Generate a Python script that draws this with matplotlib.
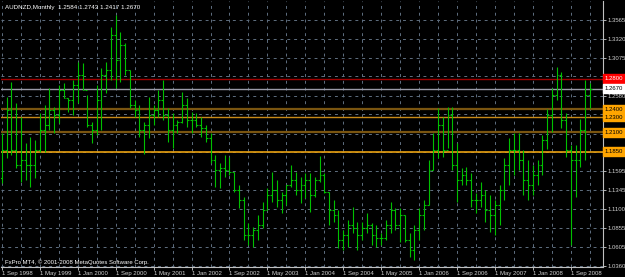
import matplotlib
matplotlib.use("Agg")
import matplotlib.pyplot as plt
import matplotlib.transforms as mtransforms
import numpy as np

plt.rcParams["font.family"] = ["Liberation Sans", "DejaVu Sans"]

titulo = "AUDNZD,Monthly  1.2584 1.2743 1.2417 1.2670"
pie = "FxPro MT4, \u00a9 2001-2008 MetaQuotes Software Corp."

# velas mensuales, la primera es Sep 1998
maximos = [1.2093, 1.2562, 1.2757, 1.2484, 1.2301, 1.1962, 1.2041, 1.2002, 1.2353, 1.2457,
           1.2679, 1.2431, 1.2718, 1.2744, 1.2549, 1.2783, 1.3018, 1.3005, 1.2588, 1.2236,
           1.2718, 1.2940, 1.3018, 1.3474, 1.3630, 1.3409, 1.3265, 1.2914, 1.2523, 1.2457,
           1.2236, 1.2562, 1.2457, 1.2653, 1.2783, 1.2418, 1.2353, 1.2262, 1.2627, 1.2549,
           1.2366, 1.2353, 1.2301, 1.2197, 1.2093, 1.1806, 1.1702, 1.1806, 1.1780, 1.1585,
           1.1415, 1.1259, 1.0920, 1.0868, 1.1024, 1.1194, 1.1376, 1.1585, 1.1480, 1.1324,
           1.1415, 1.1676, 1.1585, 1.1520, 1.1572, 1.1572, 1.1520, 1.1793, 1.1572, 1.1324,
           1.1220, 1.1090, 1.0829, 1.0959, 1.1129, 1.0933, 1.0933, 1.1050, 1.0920, 1.0894,
           1.0790, 1.0959, 1.1194, 1.1116, 1.1116, 1.1024, 1.0790, 1.0894, 1.1116, 1.1220,
           1.1741, 1.2093, 1.2418, 1.2301, 1.2431, 1.2431, 1.1962, 1.1637, 1.1650, 1.1572,
           1.1311, 1.1454, 1.1350, 1.1285, 1.1220, 1.1415, 1.1767, 1.2028, 1.2093, 1.2093,
           1.1871, 1.1741, 1.1676, 1.1741, 1.2067, 1.2405, 1.2679, 1.2953, 1.2887, 1.2353,
           1.1936, 1.1936, 1.2275, 1.2783, 1.2743]
minimos = [1.1441, 1.1767, 1.1806, 1.1637, 1.1454, 1.1480, 1.1389, 1.1506, 1.1845, 1.1845,
           1.2132, 1.2093, 1.2223, 1.2549, 1.2366, 1.2327, 1.2484, 1.2653, 1.2171, 1.1962,
           1.2067, 1.2132, 1.2614, 1.2783, 1.2679, 1.2757, 1.2848, 1.2418, 1.2301, 1.2041,
           1.1819, 1.2028, 1.2197, 1.2301, 1.2262, 1.1975, 1.1897, 1.2093, 1.2223, 1.2171,
           1.2093, 1.2171, 1.2041, 1.1975, 1.1702, 1.1389, 1.1376, 1.1520, 1.1546, 1.1324,
           1.1116, 1.0699, 1.0634, 1.0608, 1.0699, 1.0855, 1.1090, 1.1194, 1.1129, 1.1050,
           1.1155, 1.1389, 1.1285, 1.1181, 1.1246, 1.1064, 1.1259, 1.1454, 1.1311, 1.0894,
           1.0933, 1.0594, 1.0568, 1.0608, 1.0790, 1.0568, 1.0699, 1.0790, 1.0634, 1.0608,
           1.0634, 1.0699, 1.0790, 1.0829, 1.0673, 1.0673, 1.0477, 1.0438, 1.0699, 1.0829,
           1.1155, 1.1611, 1.1767, 1.1780, 1.1897, 1.1611, 1.1194, 1.1415, 1.1415, 1.1129,
           1.1050, 1.1129, 1.0933, 1.0803, 1.0764, 1.0894, 1.1220, 1.1415, 1.1546, 1.1611,
           1.1285, 1.1220, 1.1285, 1.1415, 1.1546, 1.1884, 1.2106, 1.2523, 1.2158, 1.1780,
           1.0634, 1.1259, 1.1650, 1.1741, 1.2417]
cierres = [1.1871, 1.2392, 1.1871, 1.1676, 1.1741, 1.1676, 1.1676, 1.1871, 1.2132, 1.2197,
           1.2392, 1.2327, 1.2653, 1.2549, 1.2523, 1.2718, 1.2848, 1.2653, 1.2197, 1.2132,
           1.2523, 1.2848, 1.2914, 1.3370, 1.3044, 1.3239, 1.2914, 1.2457, 1.2392, 1.2132,
           1.2197, 1.2327, 1.2392, 1.2523, 1.2327, 1.2132, 1.2197, 1.2236, 1.2457, 1.2262,
           1.2262, 1.2197, 1.2158, 1.2028, 1.1741, 1.1611, 1.1637, 1.1611, 1.1585, 1.1350,
           1.1220, 1.0764, 1.0764, 1.0829, 1.0894, 1.1090, 1.1285, 1.1350, 1.1220, 1.1285,
           1.1415, 1.1480, 1.1350, 1.1415, 1.1480, 1.1285, 1.1480, 1.1546, 1.1324, 1.1090,
           1.1024, 1.0699, 1.0764, 1.0894, 1.0855, 1.0764, 1.0855, 1.0894, 1.0764, 1.0725,
           1.0725, 1.0894, 1.1090, 1.0894, 1.1024, 1.0699, 1.0568, 1.0829, 1.1024, 1.1155,
           1.1611, 1.1871, 1.2197, 1.1871, 1.2327, 1.1676, 1.1480, 1.1546, 1.1480, 1.1220,
           1.1220, 1.1285, 1.1090, 1.1024, 1.1155, 1.1350, 1.1676, 1.1871, 1.1871, 1.1741,
           1.1480, 1.1415, 1.1546, 1.1676, 1.2002, 1.2327, 1.2588, 1.2848, 1.2262, 1.1871,
           1.1741, 1.1741, 1.2132, 1.2584, 1.2670]
apertura_inicial = 1.1506

etiquetas_fecha = ["1 Sep 1998", "1 May 1999", "1 Jan 2000", "1 Sep 2000", "1 May 2001",
                   "1 Jan 2002", "1 Sep 2002", "1 May 2003", "1 Jan 2004", "1 Sep 2004",
                   "1 May 2005", "1 Jan 2006", "1 Sep 2006", "1 May 2007", "1 Jan 2008",
                   "1 Sep 2008"]
# rejilla horizontal; las que quedan tapadas por las etiquetas de nivel van sin texto
precios_eje = [1.0360, 1.0605, 1.0855, 1.1100, 1.1345, 1.1595, 1.1840, 1.2085,
               1.2335, 1.2580, 1.2830, 1.3075, 1.3320, 1.3565]
tapadas = [1.1840, 1.2085, 1.2335, 1.2830]

# lineas horizontales del grafico
niveles = [1.2800, 1.2670, 1.2400, 1.2300, 1.2100, 1.1850]
color_linea = ["#a00000", "#9a9aa8", "#7a5510", "#c88a18", "#7a5510", "#e8a010"]
grosor_linea = [1.0, 1.0, 1.6, 1.0, 1.6, 1.2]
color_caja = ["#ff0000", "#ffffff", "#ffa500", "#ffa500", "#ffa500", "#ffa500"]
color_texto = ["#ffffff", "#000000", "#000000", "#000000", "#000000", "#000000"]

n = len(cierres)
idx = np.arange(n)
aperturas = [apertura_inicial] + cierres[:-1]

fig = plt.figure(figsize=(6.25, 2.77), dpi=100, facecolor="black")
ax = fig.add_axes([1 / 625, 10 / 277, 602 / 625, 266 / 277], facecolor="black")
ax.set_xlim(-0.2, 126.8)
ax.set_ylim(1.0347, 1.3812)

# rejilla punteada
gris = "#5f6f80"
for p in precios_eje:
    ax.axhline(p, color=gris, lw=0.7, ls=(0, (3, 4)), zorder=1)
for m in range(0, 127, 4):
    ax.axvline(m, color=gris, lw=0.7, ls=(0, (3, 4)), zorder=1)

for nv, cl, gr in zip(niveles, color_linea, grosor_linea):
    ax.axhline(nv, color=cl, lw=gr, zorder=2)

# barras OHLC
verde = "#00c000"
ax.vlines(idx, minimos, maximos, color=verde, lw=0.8, zorder=3)
ax.hlines(aperturas, idx - 0.4, idx, color=verde, lw=0.8, zorder=3)
ax.hlines(cierres, idx, idx + 0.4, color=verde, lw=0.8, zorder=3)

for lado in ["left", "top"]:
    ax.spines[lado].set_visible(False)
ax.spines["right"].set_color("#c0c0c0")
ax.spines["bottom"].set_color("#c0c0c0")
ax.spines["right"].set_linewidth(0.8)
ax.spines["bottom"].set_linewidth(0.8)

ax.yaxis.tick_right()
ax.set_yticks(precios_eje)
ax.set_yticklabels(["" if p in tapadas else "%.4f" % p for p in precios_eje])
ax.set_xticks(np.arange(0, 121, 8))
ax.set_xticklabels(etiquetas_fecha)
ax.tick_params(axis="both", colors="#d0d0d0", labelsize=4.3, length=2, width=0.6, pad=1)
for t in ax.get_xticklabels():
    t.set_horizontalalignment("left")

trans = mtransforms.blended_transform_factory(ax.transAxes, ax.transData)
for nv, cc, ct in zip(niveles, color_caja, color_texto):
    ax.text(1.003, nv, "%.4f" % nv, transform=trans, fontsize=4.3, color=ct,
            ha="left", va="center", clip_on=False, zorder=5,
            bbox=dict(boxstyle="square,pad=0.3", fc=cc, ec=cc))

ax.text(0.006, 0.985, titulo, transform=ax.transAxes, fontsize=4.5, color="white",
        ha="left", va="top", zorder=5)
ax.text(0.006, 0.008, pie, transform=ax.transAxes, fontsize=4.3, color="white",
        ha="left", va="bottom", zorder=5)

fig.savefig("out.png", dpi=100, facecolor="black")
